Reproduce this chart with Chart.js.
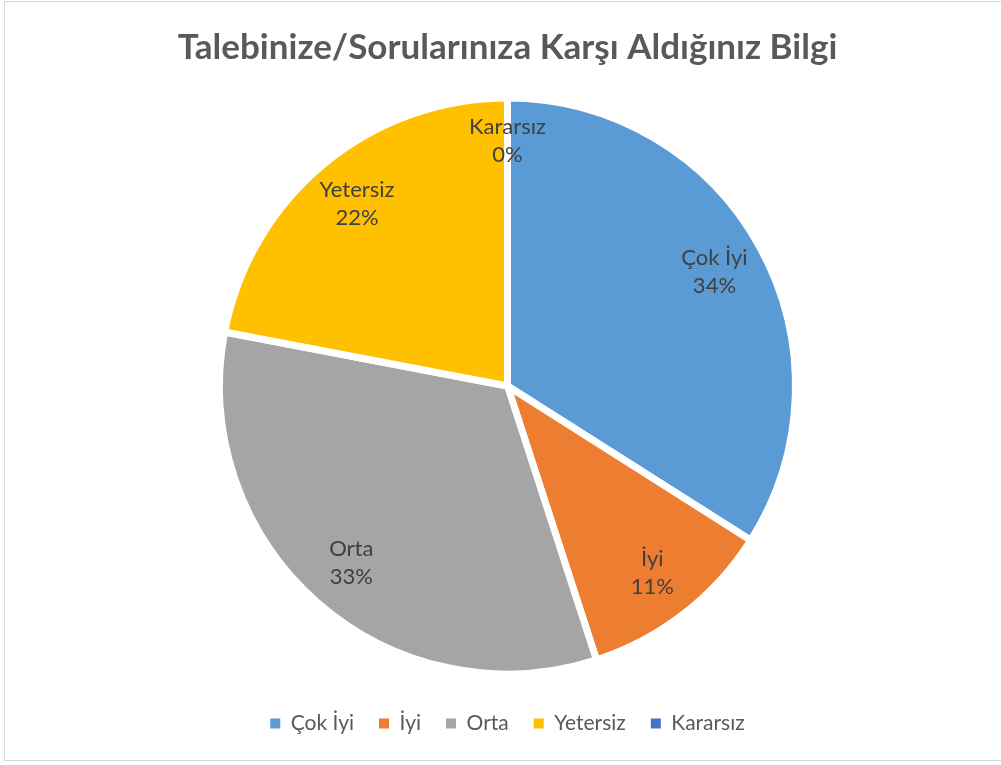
<!DOCTYPE html>
<html>
<head>
<meta charset="utf-8">
<script src="https://cdn.jsdelivr.net/npm/chart.js@4"></script>
<style>
  html, body { margin: 0; padding: 0; background: #ffffff; }
  #wrap { position: absolute; left: 0; top: 0; width: 1001px; height: 765px; }
  #frame { position: absolute; left: 4px; top: 1px; width: 1000px; height: 760px; border: 1px solid #d9d9d9; box-sizing: border-box; pointer-events: none; }
</style>
</head>
<body>
<div id="wrap"><canvas id="c" width="1001" height="765"></canvas></div>
<div id="frame"></div>
<script>
const categories = ["Çok İyi", "İyi", "Orta", "Yetersiz", "Kararsız"];
const percentages = [34, 11, 33, 22, 0];
const percentLabels = ["34%", "11%", "33%", "22%", "0%"];
const sliceColors = ["#5B9BD5", "#ED7D31", "#A5A5A5", "#FFC000", "#4472C4"];
const chartTitle = "Talebinize/Sorularınıza Karşı Aldığınız Bilgi";

const FONT = "Lato, 'Open Sans', sans-serif";

const sliceLabels = {
  id: 'sliceLabels',
  afterDatasetsDraw(chart) {
    const ctx = chart.ctx;
    const meta = chart.getDatasetMeta(0);
    ctx.save();
    ctx.fillStyle = '#404040';
    ctx.font = '22px ' + FONT;
    ctx.textAlign = 'center';
    ctx.textBaseline = 'middle';
    meta.data.forEach((arc, i) => {
      const p = arc.getProps(['x', 'y', 'startAngle', 'endAngle', 'outerRadius'], true);
      const mid = (p.startAngle + p.endAngle) / 2;
      const r = p.outerRadius * (percentages[i] === 0 ? 0.85 : 0.82);
      const x = p.x + Math.cos(mid) * r;
      const y = p.y + Math.sin(mid) * r;
      ctx.fillText(categories[i], x, y - 14);
      ctx.fillText(percentLabels[i], x, y + 14);
    });
    ctx.restore();
  }
};

new Chart(document.getElementById('c'), {
  type: 'pie',
  data: {
    labels: categories,
    datasets: [{
      data: percentages,
      backgroundColor: sliceColors,
      borderColor: '#ffffff',
      borderWidth: 7,
      radius: 288
    }]
  },
  options: {
    responsive: false,
    animation: false,
    devicePixelRatio: 1,
    layout: { padding: { left: 14, right: 0, top: 0, bottom: 21 } },
    plugins: {
      title: {
        display: true,
        text: chartTitle,
        color: '#595959',
        font: { family: FONT, size: 35, weight: 'bold' },
        padding: { top: 27, bottom: 15 }
      },
      legend: {
        position: 'bottom',
        labels: {
          color: '#595959',
          font: { family: FONT, size: 21 },
          boxWidth: 10,
          boxHeight: 10,
          padding: 25,
          generateLabels(chart) {
            return categories.map((name, i) => ({
              text: name,
              fillStyle: sliceColors[i],
              strokeStyle: sliceColors[i],
              lineWidth: 0,
              fontColor: '#595959',
              hidden: false,
              index: i
            }));
          }
        }
      },
      tooltip: { enabled: false }
    }
  },
  plugins: [sliceLabels]
});
</script>
</body>
</html>
